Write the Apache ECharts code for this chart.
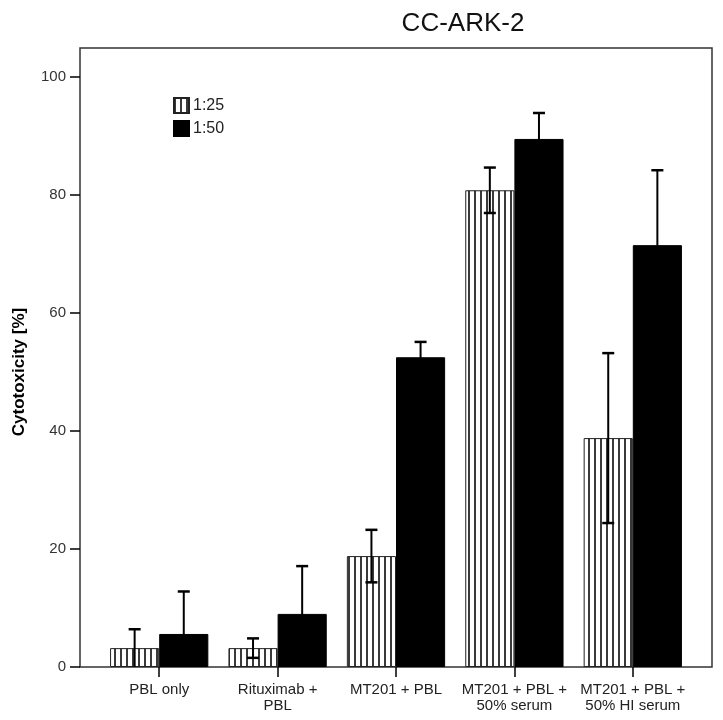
<!DOCTYPE html>
<html>
<head>
<meta charset="utf-8">
<script src="https://cdn.jsdelivr.net/npm/echarts@6/dist/echarts.min.js"></script>
<style>
html,body{margin:0;padding:0;background:#fff;}
#chart{width:723px;height:720px;}
</style>
</head>
<body>
<div id="chart"></div>
<script>
// ---- data ----
const categories = ['PBL only', 'Rituximab +\nPBL', 'MT201 + PBL', 'MT201 + PBL +\n50% serum', 'MT201 + PBL +\n50% HI serum'];
const seriesNames = ['1:25', '1:50'];
const values25 = [3.2, 3.2, 18.8, 80.8, 38.8];
const values50 = [5.6, 9.0, 52.5, 89.5, 71.5];
const err25 = [3.2, 1.65, 4.45, 3.85, 14.4];
const err50 = [7.2, 8.1, 2.6, 4.4, 12.7];
const yTicks = [0, 20, 40, 60, 80, 100];

// ---- styling ----
const FONT = 'Liberation Sans, Arial, sans-serif';
const CAT_GAP = 0.17;

function makeStripes() {
  const c = document.createElement('canvas');
  c.width = 6; c.height = 6;
  const ctx = c.getContext('2d');
  ctx.fillStyle = '#ffffff';
  ctx.fillRect(0, 0, 6, 6);
  ctx.fillStyle = '#3a3a3a';
  ctx.fillRect(0, 0, 2, 6);
  return c;
}
const stripe = { image: makeStripes(), repeat: 'repeat' };

function errRender(side) {
  return function (params, api) {
    const i = api.value(0), m = api.value(1), e = api.value(2);
    const band = api.size([1, 0])[0];
    const bw = band * (1 - CAT_GAP) / 2;
    const off = side === 0 ? -bw / 2 : bw / 2;
    const top = api.coord([i, m + e]);
    const low = Math.max(m - e, 0);
    const bot = api.coord([i, low]);
    const x = top[0] + off;
    const capW = 12;
    const children = [
      { type: 'line', shape: { x1: x, y1: top[1], x2: x, y2: bot[1] }, style: { stroke: '#000', lineWidth: 2 } },
      { type: 'line', shape: { x1: x - capW / 2, y1: top[1], x2: x + capW / 2, y2: top[1] }, style: { stroke: '#000', lineWidth: 2.5 } }
    ];
    if (m - e > 0.5) {
      children.push({ type: 'line', shape: { x1: x - capW / 2, y1: bot[1], x2: x + capW / 2, y2: bot[1] }, style: { stroke: '#000', lineWidth: 2.5 } });
    }
    return { type: 'group', children: children };
  };
}

const chart = echarts.init(document.getElementById('chart'), null, { renderer: 'canvas' });
chart.setOption({
  backgroundColor: '#fff',
  animation: false,
  textStyle: { fontFamily: FONT },
  title: {
    text: 'CC-ARK-2',
    left: 458, top: 6, textAlign: 'center',
    textStyle: { fontFamily: FONT, fontSize: 26, fontWeight: 'normal', color: '#111' }
  },
  legend: {
    orient: 'vertical', left: 173, top: 97, padding: 0,
    itemWidth: 15, itemHeight: 15, itemGap: 6,
    icon: 'rect',
    data: seriesNames,
    textStyle: { fontFamily: FONT, fontSize: 16, color: '#222', padding: [0, 0, 0, -1] }
  },
  grid: [
    { left: 80, right: 11, top: 48, bottom: 53, show: true, borderColor: '#333', borderWidth: 1.5, backgroundColor: 'transparent' },
    { left: 100, right: 31, top: 77, bottom: 53 }
  ],
  xAxis: [
    { type: 'value', gridIndex: 0, show: false, min: 0, max: 1 },
    {
      type: 'category', gridIndex: 1, data: categories,
      axisLine: { show: false },
      axisTick: { show: true, alignWithLabel: true, length: 10, lineStyle: { color: '#000', width: 1.5 } },
      axisLabel: { interval: 0, hideOverlap: false, margin: 15, fontFamily: FONT, fontSize: 15, lineHeight: 16, color: '#222' }
    }
  ],
  yAxis: [
    { type: 'value', gridIndex: 0, show: false, min: 0, max: 1 },
    {
      type: 'value', gridIndex: 1, min: 0, max: 100, interval: 20, offset: 20,
      name: 'Cytotoxicity [%]', nameLocation: 'middle', nameRotate: 90, nameGap: 52,
      nameTextStyle: { fontFamily: FONT, fontSize: 17, fontWeight: 'bold', color: '#000' },
      axisLine: { show: false },
      splitLine: { show: false },
      axisTick: { show: true, length: 10, lineStyle: { color: '#000', width: 1.5 }, customValues: yTicks },
      axisLabel: { margin: 14, fontFamily: FONT, fontSize: 15, color: '#333', customValues: yTicks }
    }
  ],
  series: [
    {
      name: seriesNames[0], type: 'bar', xAxisIndex: 1, yAxisIndex: 1,
      data: values25, barGap: '0%', barCategoryGap: (CAT_GAP * 100) + '%',
      itemStyle: { color: stripe, borderColor: '#222', borderWidth: 1 }
    },
    {
      name: seriesNames[1], type: 'bar', xAxisIndex: 1, yAxisIndex: 1,
      data: values50, barGap: '0%', barCategoryGap: (CAT_GAP * 100) + '%',
      itemStyle: { color: '#000', borderColor: '#000', borderWidth: 1 }
    },
    {
      type: 'custom', xAxisIndex: 1, yAxisIndex: 1, z: 5, clip: true,
      renderItem: errRender(0),
      data: values25.map((v, i) => [i, v, err25[i]])
    },
    {
      type: 'custom', xAxisIndex: 1, yAxisIndex: 1, z: 5, clip: true,
      renderItem: errRender(1),
      data: values50.map((v, i) => [i, v, err50[i]])
    }
  ]
});
</script>
</body>
</html>
